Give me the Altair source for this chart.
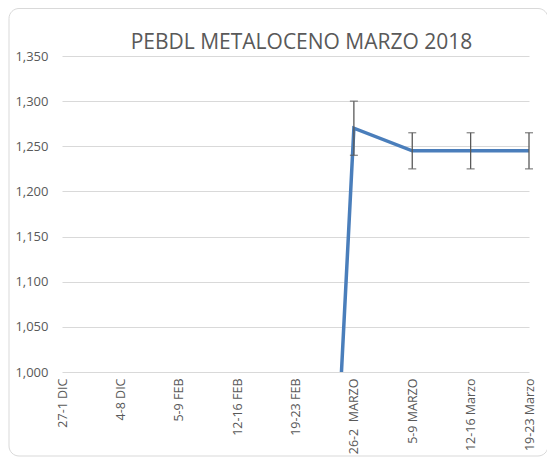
import altair as alt
import pandas as pd

categories = ["27-1 DIC", "4-8 DIC", "5-9 FEB", "12-16 FEB", "19-23 FEB",
              "26-2\u00a0 MARZO", "5-9 MARZO", "12-16 Marzo", "19-23 Marzo"]
values = [None, None, None, None, 0, 1270, 1245, 1245, 1245]
err_low = [None, None, None, None, None, 1240, 1225, 1225, 1225]
err_high = [None, None, None, None, None, 1300, 1265, 1265, 1265]

df = pd.DataFrame({"cat": categories, "value": values, "lo": err_low, "hi": err_high})
err_df = df.dropna(subset=["lo"])

FONT = "Open Sans"
GRAY = "#595959"

x_enc = alt.X("cat:N", sort=categories,
              scale=alt.Scale(type="point", padding=0),
              axis=alt.Axis(title=None, labelAngle=-90, labelFontSize=12.5,
                            labelColor=GRAY, labelFont=FONT, ticks=False,
                            domain=False, labelPadding=6, grid=False))
y_scale = alt.Scale(domain=[1000, 1350])

frame = alt.Chart(pd.DataFrame({"k": [0]})).mark_rect(
    filled=False, stroke="#d9d9d9", strokeWidth=1, cornerRadius=10, clip=False
).encode(x=alt.value(-53), x2=alt.value(486), y=alt.value(-47.5), y2=alt.value(400))

line = alt.Chart(df).mark_line(color="#4a7ebb", strokeWidth=3.5, clip=True).encode(
    x=x_enc,
    y=alt.Y("value:Q", scale=y_scale,
            axis=alt.Axis(title=None, values=[1000, 1050, 1100, 1150, 1200, 1250, 1300, 1350],
                          format=",.0f", labelFontSize=13, labelColor=GRAY, labelFont=FONT,
                          ticks=False, domain=False, labelPadding=14,
                          gridColor="#d9d9d9", gridWidth=1)),
)

rules = alt.Chart(err_df).mark_rule(color=GRAY, strokeWidth=1.3).encode(
    x=alt.X("cat:N", sort=categories), y=alt.Y("lo:Q", scale=y_scale), y2="hi:Q")
cap_lo = alt.Chart(err_df).mark_tick(color=GRAY, thickness=1.3, size=8, orient="horizontal").encode(
    x=alt.X("cat:N", sort=categories), y=alt.Y("lo:Q", scale=y_scale))
cap_hi = alt.Chart(err_df).mark_tick(color=GRAY, thickness=1.3, size=8, orient="horizontal").encode(
    x=alt.X("cat:N", sort=categories), y=alt.Y("hi:Q", scale=y_scale))

chart = alt.layer(frame, line, rules, cap_lo, cap_hi).properties(
    width=467, height=316,
    title=alt.TitleParams(text="PEBDL METALOCENO MARZO 2018", fontSize=21, font=FONT,
                          fontWeight="normal", color=GRAY, anchor="middle", frame="group",
                          offset=7, dy=52, dx=6),
    autosize=alt.AutoSizeParams(type="none"),
    padding={"left": 54, "top": 48, "right": 18, "bottom": 86},
).configure_view(stroke=None)

chart.save("out.html", embed_options={"renderer": "svg", "actions": False})
